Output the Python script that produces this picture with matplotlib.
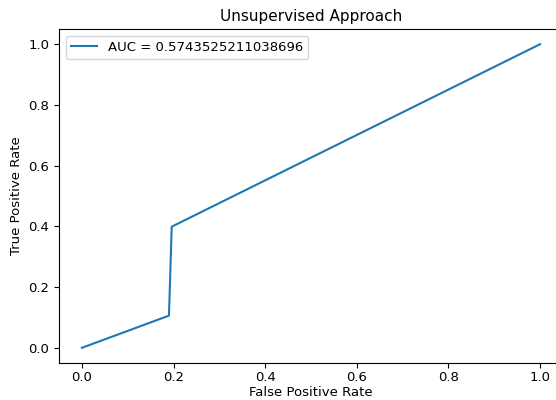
import matplotlib
matplotlib.use("Agg")
import matplotlib.pyplot as plt

# ROC curve points
fpr = [0.0, 0.19, 0.196, 1.0]
tpr = [0.0, 0.106, 0.399, 1.0]
auc_label = "AUC = 0.5743525211038696"

fig = plt.figure(figsize=(5.56, 4.0), dpi=100)
ax = fig.add_axes([59 / 556, 37 / 400, 504 / 556, 334 / 400])
ax.plot(fpr, tpr, color="#1f77b4", lw=1.5, label=auc_label)
ax.set_xlim(-0.05, 1.05)
ax.set_ylim(-0.05, 1.05)
ax.set_xlabel("False Positive Rate", fontsize=9.5, labelpad=1)
ax.set_ylabel("True Positive Rate", fontsize=9.5)
ax.set_title("Unsupervised Approach", fontsize=11)
ax.tick_params(labelsize=9.5)
ax.tick_params(axis="x", pad=2.5)
ax.legend(loc="upper left", fontsize=9.5)

fig.savefig("out.png", dpi=100)
